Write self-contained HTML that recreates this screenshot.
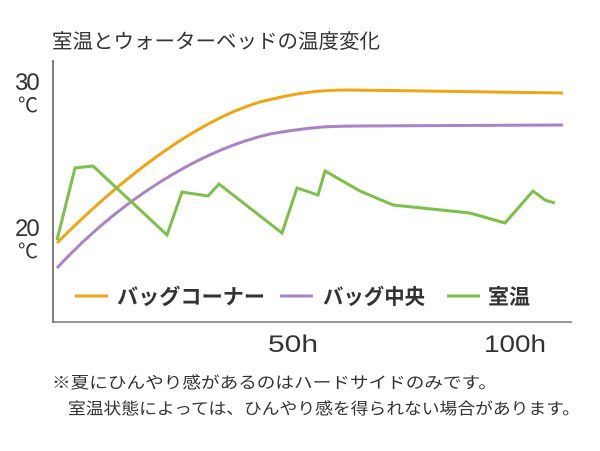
<!DOCTYPE html>
<html><head><meta charset="utf-8"><style>
body{margin:0;background:#fff;width:600px;height:446px;overflow:hidden}
svg text{font-family:"Liberation Sans","Noto Sans CJK JP",sans-serif;fill:#333}
</style></head><body>
<svg width="600" height="446" viewBox="0 0 600 446">
<text x="52" y="48" font-size="20" textLength="328" lengthAdjust="spacingAndGlyphs">室温とウォーターベッドの温度変化</text>
<line x1="53" y1="60" x2="53" y2="323" stroke="#555" stroke-width="1.5"/>
<line x1="53" y1="322" x2="572" y2="322" stroke="#777" stroke-width="1.5"/>
<text x="15" y="90" font-size="24" letter-spacing="-2">30</text>
<text x="18" y="112" font-size="20">℃</text>
<text x="15" y="236" font-size="24" letter-spacing="-2">20</text>
<text x="18" y="258" font-size="20">℃</text>
<path d="M57,243 C130,170 200,120 260,102 C300,92 320,90 350,90 L563,93" fill="none" stroke="#f0a515" stroke-width="3"/>
<path d="M57,268 C120,200 200,150 270,134 C310,127 330,126 360,126 L563,125" fill="none" stroke="#a983c6" stroke-width="3"/>
<polyline points="57,240 75,168 93,166 167,235 182,192 208,196 219,184 282,233 297,188 318,195 325,171 360,191 393,205 470,213 505,223 533,191 545,200 555,203" fill="none" stroke="#7cc04a" stroke-width="3"/>
<line x1="75" y1="296" x2="108" y2="296" stroke="#f0a515" stroke-width="3"/>
<text x="117" y="304" font-size="21" font-weight="bold" textLength="148" lengthAdjust="spacingAndGlyphs">バッグコーナー</text>
<line x1="280" y1="296" x2="313" y2="296" stroke="#a983c6" stroke-width="3"/>
<text x="323" y="304" font-size="21" font-weight="bold" textLength="102" lengthAdjust="spacingAndGlyphs">バッグ中央</text>
<line x1="447" y1="296" x2="480" y2="296" stroke="#7cc04a" stroke-width="3"/>
<text x="488" y="304" font-size="21" font-weight="bold" textLength="42" lengthAdjust="spacingAndGlyphs">室温</text>
<text x="268" y="352" font-size="24" textLength="50" lengthAdjust="spacingAndGlyphs">50h</text>
<text x="484" y="352" font-size="24" textLength="62" lengthAdjust="spacingAndGlyphs">100h</text>
<text x="52" y="388" font-size="16" textLength="445" lengthAdjust="spacingAndGlyphs">※夏にひんやり感があるのはハードサイドのみです。</text>
<text x="68" y="414" font-size="16" textLength="512" lengthAdjust="spacingAndGlyphs">室温状態によっては、ひんやり感を得られない場合があります。</text>
</svg>
</body></html>
